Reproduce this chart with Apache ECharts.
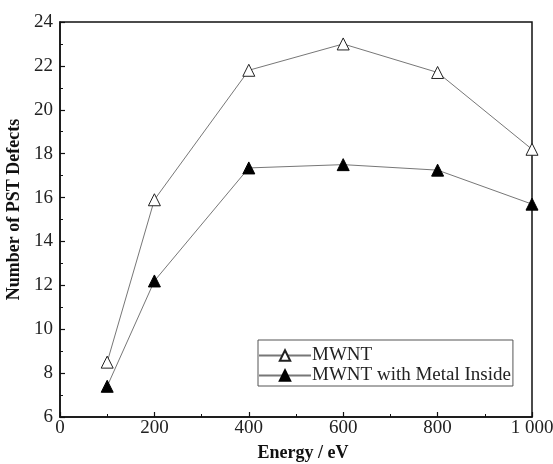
<!DOCTYPE html>
<html><head><meta charset="utf-8">
<script src="https://cdn.jsdelivr.net/npm/echarts@6/dist/echarts.min.js"></script>
<style>html,body{margin:0;padding:0;background:#fff}#c{width:553px;height:464px}</style>
</head><body><div id="c"></div>
<script>
const energies = [100, 200, 400, 600, 800, 1000];
const mwnt = [8.5, 15.9, 21.8, 23.0, 21.7, 18.2];
const mwntMetal = [7.4, 12.2, 17.35, 17.5, 17.25, 15.7];
const seriesNames = ['MWNT', 'MWNT with Metal Inside'];
const xTickLabels = {0: '0', 200: '200', 400: '400', 600: '600', 800: '800', 1000: '1 000'};

const font = 'Liberation Serif, Times New Roman, serif';
const chart = echarts.init(document.getElementById('c'), null, {renderer: 'canvas'});
const pairs = arr => energies.map((e, i) => [e, arr[i]]);
chart.setOption({
  animation: false,
  backgroundColor: '#fff',
  grid: {left: 60, right: 21, top: 22, bottom: 47, show: true, borderColor: '#111', borderWidth: 1.5, backgroundColor: 'transparent', containLabel: false, outerBoundsMode: 'none'},
  legend: {
    left: 258, top: 340, orient: 'vertical',
    data: seriesNames,
    itemWidth: 52, itemHeight: 13, itemGap: 1,
    padding: [6, 2, 1, 0],
    borderColor: '#555', borderWidth: 1,
    textStyle: {fontFamily: font, fontSize: 19, color: '#222', padding: [0, 0, 0, -4]}
  },
  xAxis: {
    type: 'value', min: 0, max: 1000, interval: 200,
    name: 'Energy / eV', nameLocation: 'middle', nameGap: 27,
    nameTextStyle: {fontFamily: font, fontSize: 18, fontWeight: 'bold', color: '#111', padding: [0, 0, 0, 14]},
    axisLine: {show: true, lineStyle: {color: '#111', width: 1.5}},
    axisTick: {show: true, inside: true, length: 5, lineStyle: {color: '#111', width: 1.2}},
    minorTick: {show: true, splitNumber: 2, length: 3, lineStyle: {color: '#111', width: 1}},
    splitLine: {show: false},
    axisLabel: {fontFamily: font, fontSize: 19, color: '#222', margin: 2, formatter: v => xTickLabels[v] !== undefined ? xTickLabels[v] : String(v)}
  },
  yAxis: {
    type: 'value', min: 6, max: 24, interval: 2,
    name: 'Number of PST Defects', nameLocation: 'middle', nameGap: 28,
    nameTextStyle: {fontFamily: font, fontSize: 18, fontWeight: 'bold', color: '#111', padding: [0, 0, 0, 20]},
    axisLine: {show: true, lineStyle: {color: '#111', width: 1.5}},
    axisTick: {show: true, inside: true, length: 5, lineStyle: {color: '#111', width: 1.2}},
    minorTick: {show: true, splitNumber: 2, length: 3, lineStyle: {color: '#111', width: 1}},
    splitLine: {show: false},
    axisLabel: {fontFamily: font, fontSize: 19, color: '#222', margin: 7}
  },
  series: [
    {
      name: seriesNames[0], type: 'line', data: pairs(mwnt),
      symbol: 'triangle', symbolSize: 12,
      lineStyle: {color: '#777', width: 1},
      itemStyle: {color: '#fff', borderColor: '#222', borderWidth: 1},
      z: 3
    },
    {
      name: seriesNames[1], type: 'line', data: pairs(mwntMetal),
      symbol: 'triangle', symbolSize: 12,
      lineStyle: {color: '#777', width: 1},
      itemStyle: {color: '#000', borderColor: '#000', borderWidth: 1},
      z: 3
    }
  ]
});
</script></body></html>
